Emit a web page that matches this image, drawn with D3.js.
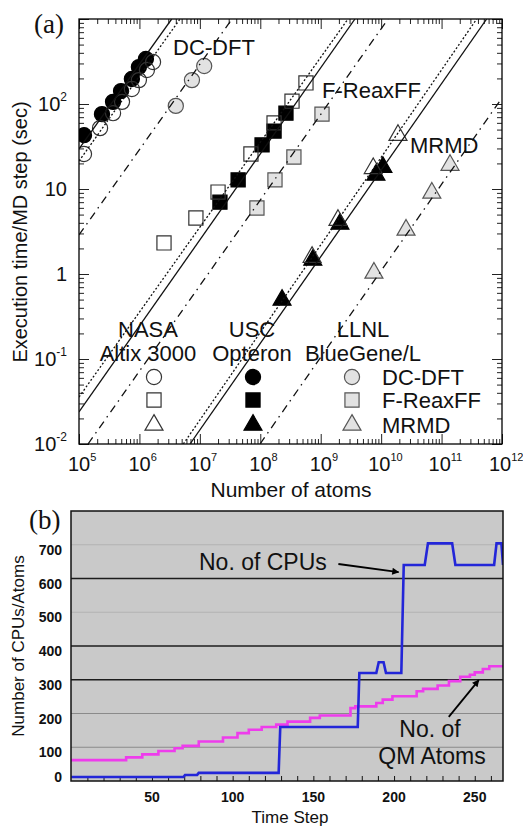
<!DOCTYPE html>
<html>
<head>
<meta charset="utf-8">
<script src="https://cdn.jsdelivr.net/npm/d3@7"></script>
<style>
body { margin: 0; background: #fff; }
text { font-family: "Liberation Sans", Arial, Helvetica, sans-serif; fill: #111; }
</style>
</head>
<body>
<svg id="chart" width="523" height="826"></svg>
<script>
// ---- panel (a): execution time vs number of atoms ----
const machines = ["NASA", "USC", "LLNL"];
const machineSystems = ["Altix 3000", "Opteron", "BlueGene/L"];
const codes = ["DC-DFT", "F-ReaxFF", "MRMD"];

const dftNasaAtoms = [1.21e5, 2.23e5, 3.66e5, 5.15e5, 7.5e5, 9.8e5, 1.33e6, 1.68e6];
const dftNasaTime = [25.8, 52, 78, 106, 150, 191, 251, 312];
const dftUscAtoms = [1.21e5, 2.4e5, 3.66e5, 4.96e5, 7.5e5, 9.8e5, 1.28e6];
const dftUscTime = [43, 76, 106, 142, 197, 272, 338];
const dftLlnlAtoms = [4.0e6, 7.4e6, 1.18e7];
const dftLlnlTime = [95, 191, 280];

const reaxNasaAtoms = [2.55e6, 8.6e6, 2.0e7, 7.0e7, 1.69e8, 3.35e8, 5.7e8];
const reaxNasaTime = [2.32, 4.56, 9.2, 25.8, 60, 108, 177];
const reaxUscAtoms = [2.15e7, 4.3e7, 1.07e8, 1.69e8, 2.66e8];
const reaxUscTime = [7.0, 12.8, 33, 48, 78];
const reaxLlnlAtoms = [8.8e7, 1.75e8, 3.6e8, 1.05e9];
const reaxLlnlTime = [5.97, 12.8, 23.8, 76];

const mrmdNasaAtoms = [7.2e8, 1.93e9, 7.4e9, 1.9e10];
const mrmdNasaTime = [1.58, 4.3, 17.5, 43];
const mrmdUscAtoms = [2.29e8, 7.4e8, 2.08e9, 8.2e9, 1.07e10];
const mrmdUscTime = [0.494, 1.46, 3.87, 14.6, 18.1];
const mrmdLlnlAtoms = [7.6e9, 2.58e10, 6.9e10, 1.38e11];
const mrmdLlnlTime = [1.03, 3.3, 9.0, 19.1];

// fitted scaling lines (start / end points)
const fitMachine = ["USC", "NASA", "LLNL", "USC", "NASA", "LLNL", "USC", "NASA", "LLNL"];
const fitStartAtoms = [1e5, 1e5, 1e5, 1e5, 1e5, 1.41e5, 6.87e6, 5.32e6, 9.9e7];
const fitStartTime = [29.6, 21.3, 2.88, 0.0238, 0.0357, 0.01, 0.01, 0.01, 0.01];
const fitEndAtoms = [3.42e6, 4.69e6, 3.4e7, 3.69e9, 2.83e9, 1.3e10, 5.58e11, 3.81e11, 1e12];
const fitEndTime = [1000, 1000, 1000, 1000, 1000, 1000, 1000, 1000, 118];

const xTickExp = [5, 6, 7, 8, 9, 10, 11, 12];
const yTickExp = [-2, -1, 0, 1, 2];

// ---- panel (b): adaptive run ----
const cpuTime = [0, 69.5, 70.5, 78, 79, 128.5, 129.5, 177.5, 178.5, 189, 190.5, 193.5, 195, 204.5, 206, 219, 221, 236, 238, 262, 263.5, 266.5, 267.5];
const cpuCount = [12, 12, 18, 18, 24, 24, 160, 160, 320, 320, 352, 352, 320, 320, 640, 640, 704, 704, 640, 640, 704, 704, 640];

const qmTime = [0, 34, 44, 54, 64, 69, 79, 94, 103, 110, 118, 127, 134, 148, 154, 173, 176, 189, 193, 199, 214, 218, 227, 234, 241, 247, 250, 255, 259, 267.5];
const qmAtoms = [62, 70, 79, 89, 97, 104, 117, 129, 142, 152, 160, 167, 176, 187, 194, 216, 221, 231, 241, 251, 266, 273, 283, 296, 309, 315, 322, 332, 340, 340];

const stepTicks = [50, 100, 150, 200, 250];
const countTicks = [0, 100, 200, 300, 400, 500, 600, 700];

const svg = d3.select("#chart");

const symbolFor = { "DC-DFT": d3.symbolCircle, "F-ReaxFF": d3.symbolSquare, "MRMD": d3.symbolTriangle };
const symbolSize = { "DC-DFT": 180, "F-ReaxFF": 200, "MRMD": 140 };
const fillFor = { NASA: "none", USC: "#000", LLNL: "#e2e2e2" };
const strokeFor = { NASA: "#333", USC: "#000", LLNL: "#555" };
const dashFor = { USC: null, NASA: "2,2", LLNL: "8,5,1.5,5" };

function drawPanelA() {
    const x = d3.scaleLog().domain([1e5, 1e12]).range([79, 502]);
    const y = d3.scaleLog().domain([1e-2, 1e3]).range([444, 19]);
    const g = svg.append("g");

    g.append("clipPath").attr("id", "clipA").append("rect")
        .attr("x", 79).attr("y", 19).attr("width", 423).attr("height", 425);

    const majorX = xTickExp.map(e => Math.pow(10, e));
    const majorY = d3.range(-2, 4).map(e => Math.pow(10, e));
    const minorX = [], minorY = [];
    for (let e = 5; e < 12; e++) for (let m = 2; m <= 9; m++) minorX.push(m * Math.pow(10, e));
    for (let e = -2; e < 3; e++) for (let m = 2; m <= 9; m++) minorY.push(m * Math.pow(10, e));

    //ticks on all four sides, pointing inward
    const tickSets = [
        [d3.axisBottom, x, 444, true], [d3.axisTop, x, 19, true],
        [d3.axisLeft, y, 79, false], [d3.axisRight, y, 502, false]
    ];
    tickSets.forEach(([fn, sc, pos, horiz]) => {
        [[horiz ? majorX : majorY, -10], [horiz ? minorX : minorY, -5]].forEach(([vals, size]) => {
            g.append("g")
                .attr("transform", horiz ? `translate(0,${pos})` : `translate(${pos},0)`)
                .call(fn(sc).tickValues(vals).tickSize(size).tickFormat(""))
                .call(a => a.select(".domain").remove())
                .selectAll("line").attr("stroke", "#222");
        });
    });

    g.append("rect")
        .attr("x", 79).attr("y", 19).attr("width", 423).attr("height", 425)
        .attr("fill", "none").attr("stroke", "#000").attr("stroke-width", 1.3);

    //x tick labels 10^n
    xTickExp.forEach(e => {
        const t = g.append("text")
            .attr("x", x(Math.pow(10, e)) - (e >= 10 ? 13 : 11)).attr("y", 471)
            .style("font-size", "20px");
        t.append("tspan").text("10");
        t.append("tspan").attr("dy", -10).style("font-size", "11px").text(e);
    });

    //y tick labels
    yTickExp.forEach(e => {
        const t = g.append("text")
            .attr("x", 67).attr("y", y(Math.pow(10, e)) + 7)
            .attr("text-anchor", "end")
            .style("font-size", "20px");
        if (e === 0) t.text("1");
        else if (e === 1) t.text("10");
        else {
            t.append("tspan").text("10");
            t.append("tspan").attr("dy", -10).style("font-size", "12px").text(e < 0 ? "-" + (-e) : e);
        }
    });

    g.append("text")
        .attr("x", 291).attr("y", 497)
        .attr("text-anchor", "middle")
        .style("font-size", "21px")
        .text("Number of atoms");

    g.append("text")
        .attr("transform", "translate(27,232) rotate(-90)")
        .attr("text-anchor", "middle")
        .style("font-size", "20px")
        .text("Execution time/MD step (sec)");

    g.append("text")
        .attr("x", 34).attr("y", 33)
        .style("font-family", "'Liberation Serif', 'Times New Roman', serif")
        .style("font-size", "27px")
        .text("(a)");

    //data markers
    const series = [
        ["DC-DFT", "LLNL", dftLlnlAtoms, dftLlnlTime],
        ["F-ReaxFF", "LLNL", reaxLlnlAtoms, reaxLlnlTime],
        ["MRMD", "LLNL", mrmdLlnlAtoms, mrmdLlnlTime],
        ["DC-DFT", "USC", dftUscAtoms, dftUscTime],
        ["F-ReaxFF", "USC", reaxUscAtoms, reaxUscTime],
        ["MRMD", "USC", mrmdUscAtoms, mrmdUscTime],
        ["DC-DFT", "NASA", dftNasaAtoms, dftNasaTime],
        ["F-ReaxFF", "NASA", reaxNasaAtoms, reaxNasaTime],
        ["MRMD", "NASA", mrmdNasaAtoms, mrmdNasaTime]
    ];
    const marks = g.append("g").attr("clip-path", "url(#clipA)");
    series.forEach(([code, machine, atoms, times]) => {
        const pts = atoms.map((a, i) => ({ a: a, t: times[i] }));
        marks.selectAll(null)
            .data(pts)
            .enter()
            .append("path")
            .attr("transform", d => `translate(${x(d.a)},${y(d.t)})`)
            .attr("d", d3.symbol().type(symbolFor[code]).size(symbolSize[code]))
            .attr("fill", fillFor[machine])
            .attr("stroke", strokeFor[machine])
            .attr("stroke-width", 1.2);
    });

    //fit lines
    const line = d3.line().x(d => x(d[0])).y(d => y(d[1]));
    fitMachine.forEach((m, i) => {
        marks.append("path")
            .attr("d", line([[fitStartAtoms[i], fitStartTime[i]], [fitEndAtoms[i], fitEndTime[i]]]))
            .attr("fill", "none")
            .attr("stroke", "#111")
            .attr("stroke-width", 1.3)
            .attr("stroke-dasharray", dashFor[m]);
    });

    //in-plot labels
    const labelPos = [[173, 55], [322, 98], [410, 153]];
    codes.forEach((c, i) => {
        g.append("text")
            .attr("x", labelPos[i][0]).attr("y", labelPos[i][1])
            .style("font-size", "22px")
            .text(c);
    });

    //legend
    const colX = [148, 252, 363];
    const markX = [154, 253, 352];
    const rowY = [377, 400, 425];
    machines.forEach((m, i) => {
        g.append("text").attr("x", colX[i]).attr("y", 337)
            .attr("text-anchor", "middle").style("font-size", "22px").text(m);
        g.append("text").attr("x", colX[i]).attr("y", 361)
            .attr("text-anchor", "middle").style("font-size", "22px").text(machineSystems[i]);
        codes.forEach((c, j) => {
            g.append("path")
                .attr("transform", `translate(${markX[i]},${rowY[j]})`)
                .attr("d", d3.symbol().type(symbolFor[c]).size(symbolSize[c]))
                .attr("fill", m === "NASA" ? "#fff" : fillFor[m])
                .attr("stroke", strokeFor[m])
                .attr("stroke-width", 1.2);
        });
    });
    codes.forEach((c, j) => {
        g.append("text").attr("x", 382).attr("y", rowY[j] + 8)
            .style("font-size", "22px").text(c);
    });
}

function drawPanelB() {
    const x = d3.scaleLinear().domain([0, 267.5]).range([71.25, 503]);
    const y = d3.scaleLinear().domain([0, 800]).range([781, 511]);
    const g = svg.append("g");

    g.append("clipPath").attr("id", "clipB").append("rect")
        .attr("x", 71).attr("y", 511).attr("width", 432).attr("height", 270);

    g.append("rect")
        .attr("x", 71).attr("y", 511).attr("width", 432).attr("height", 270)
        .attr("fill", "#c9c9c9");

    const gridColor = v => (v === 300 || v === 400 || v === 600) ? "#1c1c1c"
        : (v === 100 || v === 200) ? "#8a8a8a" : "#b2b2b2";
    g.selectAll(".grid")
        .data(countTicks.filter(v => v > 0))
        .enter()
        .append("line")
        .attr("class", "grid")
        .attr("x1", 71).attr("x2", 503)
        .attr("y1", d => y(d)).attr("y2", d => y(d))
        .attr("stroke", gridColor)
        .attr("stroke-width", d => gridColor(d) === "#1c1c1c" ? 1.3 : 1.1);

    g.append("g")
        .attr("transform", "translate(0,781)")
        .call(d3.axisBottom(x).tickValues(d3.range(10, 267, 10)).tickSize(-5).tickFormat(""))
        .call(a => a.select(".domain").remove())
        .selectAll("line").attr("stroke", "#111");

    const plot = g.append("g").attr("clip-path", "url(#clipB)");

    plot.append("path")
        .datum(qmTime.map((t, i) => [t, qmAtoms[i]]))
        .attr("d", d3.line().x(d => x(d[0])).y(d => y(d[1])).curve(d3.curveStepAfter))
        .attr("fill", "none")
        .attr("stroke", "#ee3cec")
        .attr("stroke-width", 2.6);

    plot.append("path")
        .datum(cpuTime.map((t, i) => [t, cpuCount[i]]))
        .attr("d", d3.line().x(d => x(d[0])).y(d => y(d[1])))
        .attr("fill", "none")
        .attr("stroke", "#2326d8")
        .attr("stroke-width", 2.6);

    g.append("rect")
        .attr("x", 71).attr("y", 511).attr("width", 432).attr("height", 270)
        .attr("fill", "none").attr("stroke", "#111").attr("stroke-width", 1.5);

    //tick labels
    g.selectAll(".xl")
        .data(stepTicks)
        .enter()
        .append("text")
        .attr("x", d => x(d)).attr("y", 802)
        .attr("text-anchor", "middle")
        .style("font-size", "14px").style("font-weight", "bold")
        .text(d => d);

    g.selectAll(".yl")
        .data(countTicks)
        .enter()
        .append("text")
        .attr("x", 62).attr("y", d => Math.min(y(d) + 10, 782))
        .attr("text-anchor", "end")
        .style("font-size", "14px").style("font-weight", "bold")
        .text(d => d);

    g.append("text")
        .attr("x", 290).attr("y", 823)
        .attr("text-anchor", "middle")
        .style("font-size", "17px")
        .text("Time Step");

    g.append("text")
        .attr("transform", "translate(24,646) rotate(-90)")
        .attr("text-anchor", "middle")
        .style("font-size", "17px")
        .text("Number of CPUs/Atoms");

    g.append("text")
        .attr("x", 29).attr("y", 529)
        .style("font-family", "'Liberation Serif', 'Times New Roman', serif")
        .style("font-size", "27px")
        .text("(b)");

    //annotations
    svg.append("defs").append("marker")
        .attr("id", "head").attr("viewBox", "0 0 10 10")
        .attr("refX", 9).attr("refY", 5)
        .attr("markerWidth", 9).attr("markerHeight", 7)
        .attr("markerUnits", "userSpaceOnUse")
        .attr("orient", "auto")
        .append("path").attr("d", "M0,0L10,5L0,10Z").attr("fill", "#000");

    g.append("text").attr("x", 199).attr("y", 570)
        .style("font-size", "23px").text("No. of CPUs");
    g.append("line")
        .attr("x1", x(165.5)).attr("y1", y(643))
        .attr("x2", x(202.8)).attr("y2", y(619))
        .attr("stroke", "#000").attr("stroke-width", 1.8)
        .attr("marker-end", "url(#head)");

    g.append("text").attr("x", 430).attr("y", 737)
        .attr("text-anchor", "middle").style("font-size", "23px").text("No. of");
    g.append("text").attr("x", 432).attr("y", 764)
        .attr("text-anchor", "middle").style("font-size", "23px").text("QM Atoms");
    g.append("line")
        .attr("x1", x(233.9)).attr("y1", y(190))
        .attr("x2", x(252.5)).attr("y2", y(299))
        .attr("stroke", "#000").attr("stroke-width", 1.8)
        .attr("marker-end", "url(#head)");
}

drawPanelA();
drawPanelB();
</script>
</body>
</html>
